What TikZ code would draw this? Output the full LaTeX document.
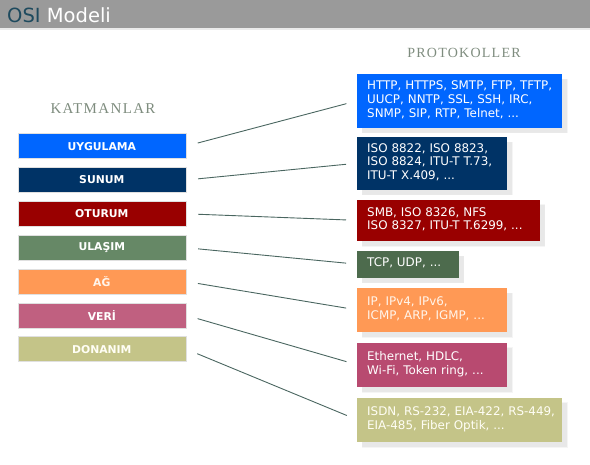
\documentclass[tikz,border=0pt]{standalone}
\usepackage{fontspec}
\setmainfont{DejaVu Sans}
\newfontfamily\baslikfont[LetterSpace=9]{Liberation Serif}
\usetikzlibrary{shadows}
\definecolor{mavi}{HTML}{0066FF}
\definecolor{lacivert}{HTML}{003366}
\definecolor{bordo}{HTML}{990000}
\definecolor{yesil}{HTML}{668866}
\definecolor{koyuyesil}{HTML}{4D6B4D}
\definecolor{turuncu}{HTML}{FF9955}
\definecolor{pembe}{HTML}{C06080}
\definecolor{koyupembe}{HTML}{B84A70}
\definecolor{haki}{HTML}{C4C488}
\definecolor{osi}{HTML}{1E4A5E}
\definecolor{gri}{HTML}{9A9A9A}
\definecolor{yazi}{HTML}{7E8C7E}
\definecolor{cizgi}{HTML}{4A6660}
\newcommand{\satirlar}[1]{\begin{tabular}{@{}l@{}}#1\end{tabular}}
\tikzset{
  katman/.style={anchor=north west,draw=black!12,line width=0.6pt,
    minimum width=168pt,minimum height=25pt,inner sep=0pt,text=white,
    font=\bfseries\fontsize{10.8}{12}\selectfont},
  protokol/.style={anchor=north west,inner xsep=10pt,inner ysep=0pt,
    align=left,text=white,font=\fontsize{11.9}{13.7}\selectfont,
    drop shadow={shadow xshift=5pt,shadow yshift=-5pt,fill=black!18,draw=black!8}},
  baglanti/.style={draw=cizgi,line width=0.9pt,shorten <=12pt,shorten >=11pt},
  baslik/.style={text=yazi,font=\baslikfont\fontsize{14}{15}\selectfont}
}
\begin{document}
\begin{tikzpicture}[x=1pt,y=-1pt]
\useasboundingbox (0,0) rectangle (590,464);
%title bar
\fill[gri] (0,0) rectangle (590,28);
\fill[black!8] (0,28) rectangle (590,30);
\node[anchor=base west,inner sep=0pt,font=\fontsize{19.5}{21}\selectfont] (title) at (7,22.5)
  {\textcolor{osi}{OSI} \textcolor{white}{Modeli}};
%headings
\node[baslik,font=\baslikfont\fontsize{15}{16}\selectfont] (katmanlar) at (103,109) {KATMANLAR};
\node[baslik] (protokoller) at (464,53) {PROTOKOLLER};
%layers
\node[katman,fill=mavi] (uyg) at (17.5,133.3) {UYGULAMA};
\node[katman,fill=lacivert] (sun) at (17.5,167.2) {SUNUM};
\node[katman,fill=bordo] (otu) at (17.5,201) {OTURUM};
\node[katman,fill=yesil] (ula) at (17.5,234.9) {ULAŞIM};
\node[katman,fill=turuncu,text=orange!8] (ag) at (17.5,268.7) {AĞ};
\node[katman,fill=pembe] (ver) at (17.5,302.5) {VERİ};
\node[katman,fill=haki,text=yellow!4] (don) at (17.5,336.3) {DONANIM};
%protocols
\node[protokol,fill=mavi,text width=184.5pt,minimum height=53.3pt] (puyg) at (357,74)
  {\satirlar{HTTP, HTTPS, SMTP, FTP, TFTP,\\UUCP, NNTP, SSL, SSH, IRC,\\SNMP, SIP, RTP, Telnet, ...}};
\node[protokol,fill=lacivert,text width=129.7pt,minimum height=52.6pt] (psun) at (357,136.7)
  {\satirlar{ISO 8822, ISO 8823,\\ISO 8824, ITU-T T.73,\\ITU-T X.409, ...}};
\node[protokol,fill=bordo,text width=162.3pt,minimum height=41.7pt] (potu) at (357,199.3)
  {\satirlar{SMB, ISO 8326, NFS\\ISO 8327, ITU-T T.6299, ...}};
\node[protokol,fill=koyuyesil,text width=81.3pt,minimum height=26.6pt] (pula) at (357,250.7)
  {\satirlar{TCP, UDP, ...}};
\node[protokol,fill=turuncu,text=orange!8,text width=129.7pt,minimum height=44pt] (pag) at (357,287.7)
  {\satirlar{IP, IPv4, IPv6,\\ICMP, ARP, IGMP, ...}};
\node[protokol,fill=koyupembe,text width=129.7pt,minimum height=44.4pt] (pver) at (357,342.3)
  {\satirlar{Ethernet, HDLC,\\Wi-Fi, Token ring, ...}};
\node[protokol,fill=haki,text=yellow!4,text width=184.7pt,minimum height=44.4pt] (pdon) at (357,397.3)
  {\satirlar{ISDN, RS-232, EIA-422, RS-449,\\EIA-485, Fiber Optik, ...}};
%links
\draw[baglanti] (uyg.east) -- (puyg.west);
\draw[baglanti] (sun.east) -- (psun.west);
\draw[baglanti] (otu.east) -- (potu.west);
\draw[baglanti] (ula.east) -- (pula.west);
\draw[baglanti] (ag.east) -- (pag.west);
\draw[baglanti] (ver.east) -- (pver.west);
\draw[baglanti] (don.east) -- (pdon.west);
\end{tikzpicture}
\end{document}
